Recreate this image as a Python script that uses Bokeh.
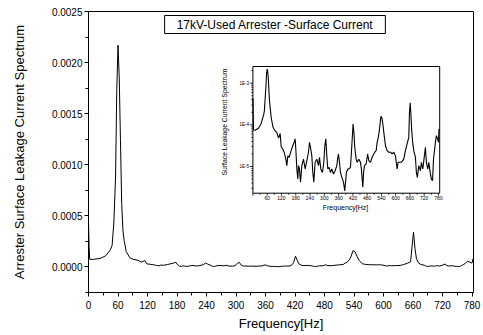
import math
from bokeh.plotting import figure
from bokeh.models import Range1d, FixedTicker, PrintfTickFormatter, Label, LogScale
from bokeh.core.properties import value
from bokeh.embed import file_html
from bokeh.resources import INLINE

# ---------------- data ----------------
freq = [0, 1.2, 2.5, 9.5, 23.5, 34.7, 44.5, 48, 51.5, 55, 57.5, 60, 62.5, 65, 67.5,
        70, 72.5, 76.8, 84, 90.8, 100.6, 107.6, 114.6, 118.8, 125.8, 131.4, 138.4,
        142.6, 146.8, 152.4, 160.8, 167.8, 173.4, 177.6, 180.4, 184.6, 188.8, 191.6,
        195.8, 200, 205.6, 212.6, 219.6, 226.6, 233.6, 237.8, 242, 247.6, 251.8, 256,
        261.6, 268.6, 275.6, 279.8, 285.4, 292.4, 298, 302.2, 306.4, 310.6, 314.8,
        320.4, 326, 331.6, 338.6, 345.6, 352.6, 356.8, 359.6, 363.8, 368, 373.6,
        380.6, 386, 393, 398.8, 403, 410, 414, 417, 421, 425, 428, 434, 438, 445,
        452, 456, 459, 462, 465, 469, 476, 482, 487, 494, 501, 508, 512, 518, 522,
        526, 532, 538, 542, 546, 551, 557, 564, 571, 578, 585, 592, 599, 606, 610,
        616, 624, 634, 641, 648, 655, 658, 661, 664, 667, 671, 676, 683, 687, 691,
        697, 704, 708, 714, 719, 725, 729, 735, 739, 745, 750, 755, 759, 763, 767,
        771, 776, 780, 782]
amp = [4.4e-4, 2.0e-4, 7.5e-5, 7.4e-5, 8.3e-5, 1.08e-4, 1.68e-4, 2.1e-4, 4.3e-4,
       8.7e-4, 1.73e-3, 2.17e-3, 1.86e-3, 1.24e-3, 6.2e-4,
       3.6e-4, 2.6e-4, 1.5e-4, 9.0e-5, 7.5e-5, 6.5e-5, 4.8e-5, 6.2e-5, 3.0e-5,
       2.6e-5, 2.2e-5, 1.5e-5,
       1.05e-5, 1.8e-5, 1.66e-5, 2.4e-5, 3.2e-5, 3.8e-5, 4.6e-5, 2.6e-5, 8.7e-6,
       5.0e-6, 1.05e-5,
       8.7e-6, 4.2e-6, 1.05e-5, 1.5e-5, 8.7e-6, 1.38e-5, 2.2e-5, 3.8e-5, 2.9e-5,
       1.8e-5, 7.2e-6, 4.2e-6,
       1.26e-5, 1.5e-5, 1.05e-5, 1.66e-5, 8.7e-6, 7.2e-6, 1.26e-5, 3.2e-5, 4.6e-5,
       1.8e-5, 8.7e-6,
       9.5e-6, 7.2e-6, 8.7e-6, 6.6e-6, 7.9e-6, 1.05e-5, 1.66e-5, 2.0e-5, 1.26e-5,
       7.2e-6, 5.5e-6,
       4.2e-6, 2.6e-6, 7.2e-6, 8.7e-6, 8.7e-6, 9.5e-6, 2.2e-5, 4.2e-5, 1.05e-4,
       6.0e-5, 2.9e-5, 1.5e-5, 1.26e-5, 1.5e-5,
       1.26e-5, 8.7e-6, 5.0e-6, 3.2e-6, 7.2e-6, 1.05e-5, 1.15e-5, 2.0e-5, 1.38e-5,
       1.26e-5, 1.66e-5, 2.0e-5, 2.2e-5, 2.4e-5, 3.8e-5,
       4.6e-5, 7.9e-5, 1.6e-4, 1.5e-4, 1.05e-4, 6.0e-5, 3.2e-5, 2.4e-5, 2.2e-5,
       2.2e-5, 2.0e-5, 2.2e-5, 1.8e-5, 8.7e-6, 1.26e-5,
       1.26e-5, 1.26e-5, 1.5e-5, 2.4e-5, 3.5e-5, 5.0e-5, 2.0e-4, 3.4e-4, 1.8e-4,
       8.0e-5, 4.0e-5, 2.4e-5, 1.66e-5, 7.2e-6, 5.5e-6,
       1.05e-5, 7.9e-6, 1.26e-5, 8.7e-6, 1.5e-5, 2.9e-5, 1.26e-5, 8.7e-6, 1.26e-5,
       7.2e-6, 5.0e-6, 4.6e-6, 1.5e-5, 2.4e-5, 3.8e-5,
       5.5e-5, 4.6e-5, 3.8e-5, 8.0e-5]

x_ticks = [0, 60, 120, 180, 240, 300, 360, 420, 480, 540, 600, 660, 720, 780]
x_minor = [30, 90, 150, 210, 270, 330, 390, 450, 510, 570, 630, 690, 750]
y_ticks = [0.0, 0.0005, 0.0010, 0.0015, 0.0020, 0.0025]
y_minor = [-0.00025, 0.00025, 0.00075, 0.00125, 0.00175, 0.00225]

inset_x_label_ticks = [60, 120, 180, 240, 300, 360, 420, 480, 540, 600, 660, 720, 780]
inset_x_labels = ["60", "120", "180", "240", "300", "360", "420", "480", "540",
                  "600", "660", "720", "780"]
inset_y_ticks = [1e-3, 1e-4, 1e-5]
inset_y_labels = ["1E-3", "1E-4", "1E-5"]

title = "17kV-Used Arrester -Surface Current"
x_title = "Frequency[Hz]"
y_title = "Arrester Surface Leakage Current Spectrum"
inset_x_title = "Frequency[Hz]"
inset_y_title = "Surface Leakage Current Spectrum"

# ---------------- layout constants ----------------
FONT = "Liberation Sans"
W, H = 483, 335
FL, FT, FR, FB = 88, 11, 473, 292
XMAX = 783.0
YMIN, YMAX = -0.00025, 0.0025

IL, IR, IT, IB = 252.4, 439.2, 66.0, 192.7
IXMAX = 785.0
DEC_PX = 41.65
REF_PY = 82.7

def main_x(px):
    return (px - FL) / (FR - FL) * XMAX

def main_y(py):
    return YMAX - (py - FT) / (FB - FT) * (YMAX - YMIN)

IPX = (IR - IL) / IXMAX

def ix(px):
    return (px - IL) / IPX

def iy(py):
    return 10 ** (-3 - (py - REF_PY) / DEC_PX)

p = figure(width=W, height=H, x_range=Range1d(0, XMAX), y_range=Range1d(YMIN, YMAX),
           output_backend="svg", toolbar_location=None,
           min_border_left=FL, min_border_right=W - FR, min_border_top=FT,
           min_border_bottom=H - FB)
p.background_fill_color = "white"
p.border_fill_color = "white"
p.outline_line_color = "black"
p.outline_line_width = 1
p.grid.visible = False

p.xaxis.ticker = FixedTicker(ticks=x_ticks, minor_ticks=x_minor)
p.yaxis.ticker = FixedTicker(ticks=y_ticks, minor_ticks=y_minor)
p.yaxis.formatter = PrintfTickFormatter(format="%.4f")
for ax in (p.xaxis[0], p.yaxis[0]):
    ax.axis_line_color = "black"
    ax.major_tick_line_color = "black"
    ax.minor_tick_line_color = "black"
    ax.major_tick_in = 0
    ax.minor_tick_in = 0
    ax.major_tick_out = 4
    ax.minor_tick_out = 3
    ax.major_label_text_font = FONT
    ax.major_label_text_font_size = "10px"
    ax.major_label_text_color = "black"
    ax.axis_label_text_font = FONT
    ax.axis_label_text_font_style = "normal"
    ax.axis_label_text_color = "black"
p.xaxis.axis_label = x_title
p.yaxis.axis_label = y_title
p.xaxis.axis_label_text_font_size = "13px"
p.yaxis.axis_label_text_font_size = "13px"
p.xaxis.major_label_standoff = 4
p.yaxis.major_label_standoff = 2
p.xaxis.axis_label_standoff = 4
p.yaxis.axis_label_standoff = 22

# main spectrum
p.line(freq, amp, line_color="black", line_width=1)

# title box
p.add_layout(Label(x=main_x((163 + 386) / 2), y=main_y(24), text=title,
                   text_align="center", text_baseline="middle",
                   text_font=FONT, text_font_size="12px", text_color="black",
                   border_line_color="black", border_line_width=1,
                   background_fill_color="white",
                   padding=dict(left=12, right=12, top=2, bottom=2)))

# ---------------- inset ----------------
p.extra_x_ranges = {"ix": Range1d(ix(FL), ix(FR))}
p.extra_y_ranges = {"iy": Range1d(iy(FB), iy(FT))}
p.extra_y_scales = {"iy": LogScale()}
kw = dict(x_range_name="ix", y_range_name="iy")

p.quad(left=[0], right=[IXMAX], bottom=[iy(IB)], top=[iy(IT)],
       fill_color="white", line_color="black", line_width=1, **kw)
p.line(freq, amp, line_color="black", line_width=1.1, **kw)

# inset x ticks
yb = iy(IB)
p.segment(x0=x_ticks, x1=x_ticks, y0=[yb] * len(x_ticks), y1=[iy(IB + 2.5)] * len(x_ticks),
          line_color="black", line_width=0.8, **kw)
p.segment(x0=x_minor, x1=x_minor, y0=[yb] * len(x_minor), y1=[iy(IB + 1.5)] * len(x_minor),
          line_color="black", line_width=0.8, **kw)
p.text(x=inset_x_label_ticks, y=[iy(IB + 2.5)] * len(inset_x_label_ticks),
       text=inset_x_labels, text_align="center", text_baseline="top",
       text_font=value(FONT), text_font_size="5px", text_color="black", **kw)

# inset y ticks
lo, hi = iy(IB), iy(IT)
minor_y = [k * 10.0 ** d for d in range(-7, -1) for k in range(2, 10)
           if lo < k * 10.0 ** d < hi]
p.segment(x0=[0] * len(inset_y_ticks), x1=[ix(IL - 3)] * len(inset_y_ticks),
          y0=inset_y_ticks, y1=inset_y_ticks, line_color="black", line_width=0.8, **kw)
p.segment(x0=[0] * len(minor_y), x1=[ix(IL - 1.7)] * len(minor_y),
          y0=minor_y, y1=minor_y, line_color="black", line_width=0.7, **kw)
p.text(x=[ix(IL - 4)] * len(inset_y_ticks), y=inset_y_ticks, text=inset_y_labels,
       text_align="right", text_baseline="middle",
       text_font=value(FONT), text_font_size="4.5px", text_color="black", **kw)

# inset axis titles
p.text(x=[ix(345)], y=[iy(206.7)], text=[inset_x_title], text_align="center",
       text_baseline="middle", text_font=value(FONT), text_font_size="7px",
       text_color="black", **kw)
p.text(x=[ix(224)], y=[iy(121.5)], text=[inset_y_title], text_align="center",
       text_baseline="middle", angle=math.pi / 2, text_font=value(FONT),
       text_font_size="6.8px", text_color="black", **kw)

open("out.html", "w").write(file_html(p, INLINE))
